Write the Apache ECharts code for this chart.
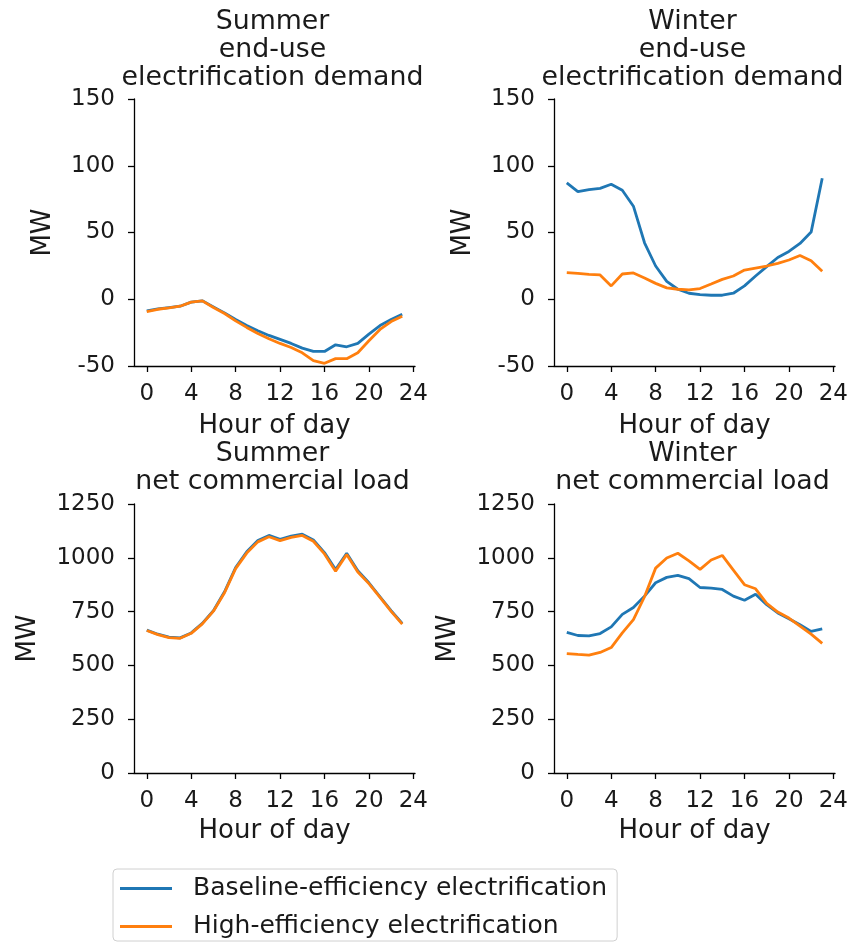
<!DOCTYPE html>
<html>
<head>
<meta charset="utf-8">
<script src="https://cdn.jsdelivr.net/npm/echarts@6/dist/echarts.min.js"></script>
<style>
  html, body { margin: 0; padding: 0; background: #fff; }
  #chart { width: 857px; height: 944px; }
</style>
</head>
<body>
<div id="chart"></div>
<script>
// Hour of day (x values shared by every panel)
const hours = [0, 1, 2, 3, 4, 5, 6, 7, 8, 9, 10, 11, 12, 13, 14, 15, 16, 17, 18, 19, 20, 21, 22, 23];
const hourTicks = [0, 4, 8, 12, 16, 20, 24];

// Summer end-use electrification demand (MW)
const summerEndUseBaseline = [-8.7, -7.2, -6.2, -5.2, -2.2, -1.2, -5.7, -10.2, -15.2, -19.7, -23.6, -27.1, -30.1, -33.1, -36.6, -39.1, -39.1, -34.1, -35.6, -33.1, -26.1, -19.7, -15.2, -11.2];
const summerEndUseHigh = [-9.2, -7.5, -6.5, -5.2, -2.2, -1.2, -6.2, -10.7, -16.2, -21.1, -25.6, -29.6, -33.1, -36.1, -40.1, -46.0, -48.0, -44.5, -44.5, -40.1, -31.1, -22.6, -16.7, -12.7];

// Winter end-use electrification demand (MW)
const winterEndUseBaseline = [87.1, 80.6, 82.1, 83.1, 86.1, 81.6, 69.7, 42.3, 24.9, 13.4, 7.5, 4.5, 3.5, 3.0, 3.0, 4.5, 10.0, 17.4, 24.4, 31.3, 35.8, 41.8, 50.3, 90.6];
const winterEndUseHigh = [19.9, 19.4, 18.7, 18.2, 10.0, 18.9, 19.7, 15.9, 11.9, 8.5, 7.5, 7.0, 8.0, 11.4, 14.9, 17.4, 21.9, 23.4, 24.9, 26.9, 29.4, 32.8, 28.9, 20.9];

// Summer net commercial load (MW)
const summerNetBaseline = [664, 645, 631, 628, 651, 695, 754, 842, 955, 1028, 1080, 1104, 1086, 1101, 1110, 1083, 1024, 946, 1021, 940, 884, 819, 754, 695];
const summerNetHigh = [662, 643, 629, 626, 649, 693, 752, 838, 950, 1022, 1074, 1098, 1080, 1095, 1104, 1077, 1018, 938, 1015, 934, 880, 816, 751, 692];

// Winter net commercial load (MW)
const winterNetBaseline = [653, 639, 637, 648, 679, 737, 769, 822, 884, 909, 918, 903, 862, 859, 853, 822, 803, 831, 782, 744, 717, 689, 658, 670];
const winterNetHigh = [555, 551, 548, 560, 583, 651, 713, 819, 952, 999, 1021, 986, 946, 990, 1011, 943, 875, 856, 788, 748, 720, 682, 645, 602];

const panelTitles = [
  'Summer\nend-use\nelectrification demand',
  'Winter\nend-use\nelectrification demand',
  'Summer\nnet commercial load',
  'Winter\nnet commercial load'
];
const seriesNames = ['Baseline-efficiency electrification', 'High-efficiency electrification'];
const xLabel = 'Hour of day';
const yLabel = 'MW';

const FONT = 'DejaVu Sans';
const INK = '#1a1a1a';
const BLUE = '#1f77b4';
const ORANGE = '#ff7f0e';

const panels = [
  { grid: { left: 134, top: 99, width: 281, height: 267 }, ymin: -50, ymax: 150, step: 50, nameGap: 78, base: summerEndUseBaseline, high: summerEndUseHigh },
  { grid: { left: 554, top: 99, width: 281, height: 267 }, ymin: -50, ymax: 150, step: 50, nameGap: 78, base: winterEndUseBaseline, high: winterEndUseHigh },
  { grid: { left: 134, top: 504, width: 281, height: 269 }, ymin: 0, ymax: 1250, step: 250, nameGap: 93, base: summerNetBaseline, high: summerNetHigh },
  { grid: { left: 554, top: 504, width: 281, height: 269 }, ymin: 0, ymax: 1250, step: 250, nameGap: 93, base: winterNetBaseline, high: winterNetHigh }
];

const axisLine = { show: true, onZero: false, lineStyle: { color: '#000', width: 1.3 } };
const axisTick = { show: true, length: 6, lineStyle: { color: '#000', width: 1.3 } };
const plainNumber = v => String(v);

const grids = [], xAxes = [], yAxes = [], series = [], titles = [];
panels.forEach((p, i) => {
  grids.push(Object.assign({ containLabel: false }, p.grid));
  titles.push({
    text: panelTitles[i],
    left: p.grid.left + p.grid.width / 2 - 2,
    top: i < 2 ? 8 : 440,
    padding: 0,
    textAlign: 'center',
    textStyle: { fontFamily: FONT, fontSize: 26.8, fontWeight: 'normal', color: INK, lineHeight: 28 }
  });
  xAxes.push({
    type: 'value', gridIndex: i, min: -1.15, max: 24.15,
    axisLine, splitLine: { show: false },
    axisTick: Object.assign({ customValues: hourTicks }, axisTick),
    axisLabel: { customValues: hourTicks, formatter: plainNumber, fontFamily: FONT, fontSize: 23, color: INK, margin: 17 },
    name: xLabel, nameLocation: 'middle', nameGap: i < 2 ? 47 : 45,
    nameTextStyle: { fontFamily: FONT, fontSize: 26, color: INK }
  });
  yAxes.push({
    type: 'value', gridIndex: i, min: p.ymin, max: p.ymax, interval: p.step,
    axisLine, axisTick, splitLine: { show: false },
    axisLabel: { formatter: plainNumber, fontFamily: FONT, fontSize: 23, color: INK, margin: 19 },
    name: yLabel, nameLocation: 'middle', nameRotate: 90, nameGap: p.nameGap,
    nameTextStyle: { fontFamily: FONT, fontSize: 26, color: INK }
  });
  [[p.base, BLUE, seriesNames[0]], [p.high, ORANGE, seriesNames[1]]].forEach(([vals, color, name]) => {
    series.push({
      type: 'line', name, xAxisIndex: i, yAxisIndex: i,
      data: hours.map((h, k) => [h, vals[k]]),
      showSymbol: false, symbol: 'none', silent: true,
      lineStyle: { color, width: 2.8 }, itemStyle: { color }
    });
  });
});

const chart = echarts.init(document.getElementById('chart'), null, { renderer: 'canvas' });
chart.setOption({
  animation: false,
  backgroundColor: '#fff',
  title: titles,
  grid: grids,
  xAxis: xAxes,
  yAxis: yAxes,
  legend: {
    data: seriesNames,
    orient: 'vertical',
    left: 113, top: 869,
    padding: [5, 10, 0, 7],
    itemGap: 9,
    itemWidth: 52, itemHeight: 3,
    icon: 'rect',
    borderColor: '#d0d0d0', borderWidth: 1, borderRadius: 4,
    textStyle: { fontFamily: FONT, fontSize: 25, color: INK, lineHeight: 29, padding: [0, 0, 0, 16] }
  },
  series
});
</script>
</body>
</html>
